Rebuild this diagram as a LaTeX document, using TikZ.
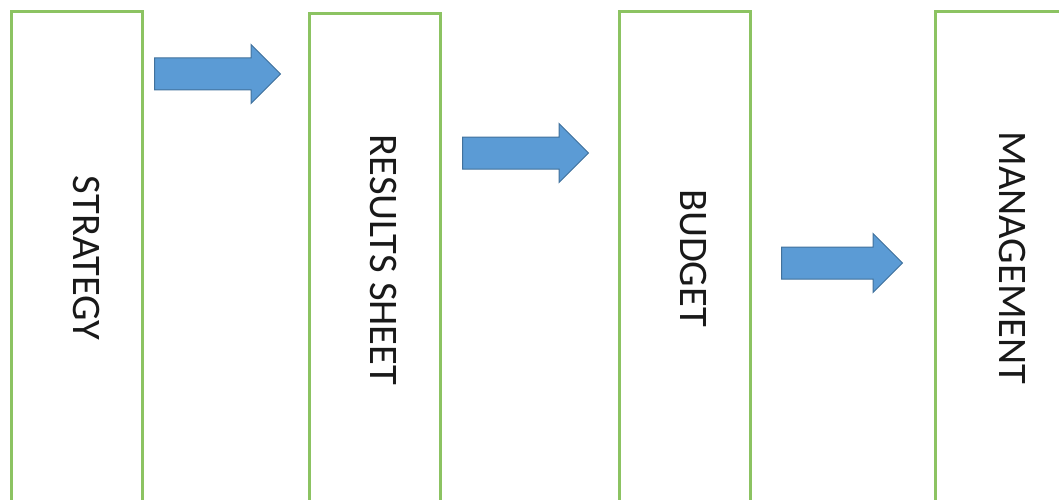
\documentclass[tikz,border=0pt]{standalone}
\usepackage{fontspec}
\setmainfont{Carlito}
\usetikzlibrary{shapes.arrows}

\definecolor{boxgreen}{RGB}{140,195,98}
\definecolor{arrblue}{RGB}{91,155,213}
\definecolor{arredge}{RGB}{65,113,156}

\begin{document}
\begin{tikzpicture}[x=1pt,y=-1pt,
    stage/.style={draw=boxgreen,line width=3pt,minimum width=131pt,minimum height=492pt,
        anchor=north west,inner sep=0pt,outer sep=0pt},
    lbl/.style={rotate=-90,inner sep=0pt,text=black!90,font=\fontsize{40.5}{42}\selectfont},
    flow/.style={single arrow,fill=arrblue,draw=arredge,line width=1pt,inner xsep=0pt,
        inner ysep=15.5pt,single arrow head extend=13.5pt,minimum height=126pt,anchor=tail}]
    \useasboundingbox (0,0) rectangle (1059,500);
    \clip (0,0) rectangle (1059,500);

    \node[stage] (s1) at (11,12) {};
    \node[stage] (s2) at (309,14) {};
    \node[stage] (s3) at (619,12) {};
    \node[stage] (s4) at (935,12) {};

    \node[lbl] (t1) at ([xshift=10pt]s1.center) {STRATEGY};
    \node[lbl] (t2) at ([xshift=9pt]s2.center) {RESULTS SHEET};
    \node[lbl] (t3) at ([xshift=9pt]s3.center) {BUDGET};
    \node[lbl] (t4) at ([xshift=12pt]s4.center) {MANAGEMENT};

    \node[flow] (a1) at (154,74) {};
    \node[flow] (a2) at (462,153) {};
    \node[flow,minimum height=121pt] (a3) at (781,263) {};
\end{tikzpicture}
\end{document}
